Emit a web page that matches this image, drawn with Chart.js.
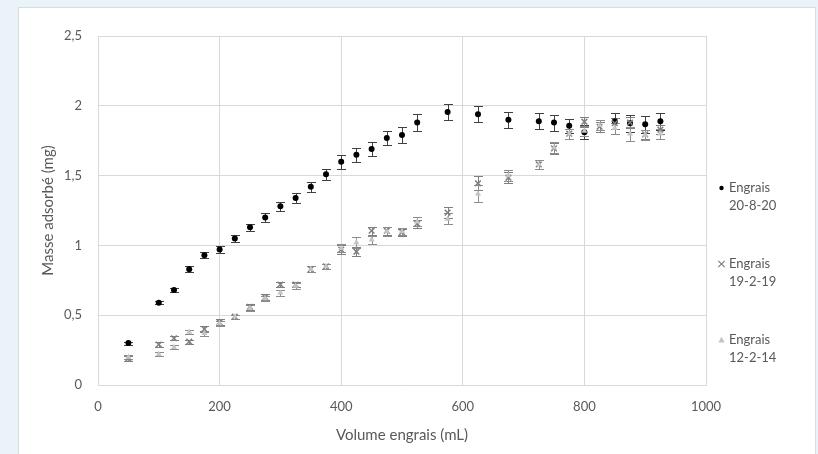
<!DOCTYPE html>
<html><head><meta charset="utf-8">
<script src="https://cdn.jsdelivr.net/npm/chart.js@4/dist/chart.umd.min.js"></script>
<style>
html,body{margin:0;padding:0;background:#eaf3f7;width:818px;height:454px;overflow:hidden}
#card{position:absolute;left:18px;top:7px;width:796px;height:460px;background:#fff;border:1px solid #dcdcdc;}
canvas{position:absolute;left:0;top:0}
</style></head><body>
<div id="card"></div>
<canvas id="c" width="818" height="454"></canvas>
<script>
const seriesNames = [["Engrais", "20-8-20"], ["Engrais", "19-2-19"], ["Engrais", "12-2-14"]];
const xTitle = "Volume engrais (mL)";
const yTitle = "Masse adsorbé (mg)";

// Engrais 20-8-20
const x1 = [50,100,125,150,175,200,225,250,275,300,325,350,375,400,425,450,475,500,525,575,625,675,725,750,775,800,850,875,900,925];
const y1 = [0.30,0.59,0.68,0.83,0.93,0.97,1.05,1.13,1.20,1.28,1.34,1.42,1.51,1.60,1.65,1.69,1.77,1.79,1.88,1.955,1.94,1.90,1.89,1.88,1.857,1.81,1.89,1.875,1.867,1.89];
const e1 = [0.01,0.012,0.015,0.02,0.02,0.025,0.025,0.025,0.03,0.03,0.035,0.035,0.04,0.05,0.05,0.05,0.05,0.055,0.06,0.057,0.057,0.057,0.057,0.057,0.05,0.05,0.055,0.06,0.06,0.06];

// Engrais 19-2-19
const x2 = [50,100,125,150,175,200,225,250,275,300,325,350,375,400,425,450,475,500,525,575,625,675,725,750,775,800,825,850,875,900,925];
const y2 = [0.19,0.29,0.335,0.31,0.40,0.45,0.49,0.56,0.63,0.72,0.72,0.83,0.85,0.97,0.955,1.105,1.105,1.095,1.155,1.235,1.445,1.485,1.58,1.695,1.80,1.886,1.85,1.875,1.88,1.795,1.83];
const e2 = [0.015,0.015,0.015,0.015,0.02,0.02,0.015,0.02,0.02,0.02,0.02,0.02,0.02,0.03,0.03,0.03,0.03,0.025,0.03,0.04,0.05,0.04,0.03,0.04,0.035,0.035,0.035,0.04,0.04,0.035,0.035];

// Engrais 12-2-14
const x3 = [50,100,125,150,175,200,225,250,275,300,325,350,375,400,425,450,475,500,525,575,625,675,725,750,775,800,825,850,875,900,925];
const y3 = [0.20,0.22,0.27,0.38,0.37,0.44,0.49,0.55,0.62,0.66,0.71,0.83,0.85,0.98,1.02,1.04,1.10,1.10,1.17,1.19,1.37,1.50,1.58,1.70,1.80,1.82,1.86,1.84,1.80,1.79,1.80];
const e3 = [0.015,0.015,0.015,0.015,0.02,0.02,0.015,0.02,0.02,0.02,0.02,0.02,0.02,0.03,0.04,0.03,0.03,0.025,0.03,0.04,0.06,0.04,0.03,0.04,0.035,0.035,0.035,0.04,0.05,0.035,0.035];

const xTicks = [0,200,400,600,800,1000];
const yTicks = [0,0.5,1,1.5,2,2.5];

const pts = (xs, ys, es) => xs.map((x, i) => ({x: x, y: ys[i], e: es[i]}));

const FONT = "Lato, 'Open Sans', sans-serif";
const TXT = "#595959";

const errorBars = {
  id: 'errorBars',
  beforeDatasetsDraw(chart) {
    const ctx = chart.ctx;
    const xs = chart.scales.x, ys = chart.scales.y;
    chart.data.datasets.forEach((ds) => {
      ctx.save();
      ctx.strokeStyle = ds.errorColor;
      ctx.lineWidth = 1;
      ds.data.forEach(p => {
        const px = Math.round(xs.getPixelForValue(p.x)) + 0.5;
        const yt = Math.round(ys.getPixelForValue(p.y + p.e)) + 0.5;
        const yb = Math.round(ys.getPixelForValue(p.y - p.e)) + 0.5;
        ctx.beginPath();
        ctx.moveTo(px, yt); ctx.lineTo(px, yb);
        ctx.moveTo(px - 4.5, yt); ctx.lineTo(px + 4.5, yt);
        ctx.moveTo(px - 4.5, yb); ctx.lineTo(px + 4.5, yb);
        ctx.stroke();
      });
      ctx.restore();
    });
  }
};

function drawMarker(ctx, style, x, y, fill, stroke, r) {
  ctx.save();
  ctx.fillStyle = fill; ctx.strokeStyle = stroke; ctx.lineWidth = 1.2;
  ctx.beginPath();
  if (style === 'circle') {
    ctx.arc(x, y, r, 0, Math.PI * 2); ctx.fill();
  } else if (style === 'crossRot') {
    ctx.moveTo(x - r, y - r); ctx.lineTo(x + r, y + r);
    ctx.moveTo(x - r, y + r); ctx.lineTo(x + r, y - r); ctx.stroke();
  } else if (style === 'triangle') {
    ctx.moveTo(x, y - r); ctx.lineTo(x + r, y + r * 0.8); ctx.lineTo(x - r, y + r * 0.8); ctx.closePath(); ctx.fill();
  }
  ctx.restore();
}

const legendPlugin = {
  id: 'sideLegend',
  afterDraw(chart) {
    const ctx = chart.ctx;
    const rows = [188, 264, 340];
    chart.data.datasets.forEach((ds, i) => {
      const y = rows[i];
      const st = ds.pointStyle;
      drawMarker(ctx, st, 721.5, y, ds.pointBackgroundColor, ds.pointBorderColor, st === 'circle' ? 2.2 : 3.2);
      ctx.save();
      ctx.fillStyle = TXT;
      ctx.font = "13px " + FONT;
      ctx.textBaseline = 'middle';
      ctx.textAlign = 'left';
      ds.label.forEach((t, k) => ctx.fillText(t, 729, y + k * 17.5));
      ctx.restore();
    });
  }
};

new Chart(document.getElementById('c'), {
  type: 'scatter',
  data: {
    datasets: [
      {label: seriesNames[0], data: pts(x1, y1, e1), pointStyle: 'circle', pointRadius: 3,
       pointBackgroundColor: '#000000', pointBorderColor: '#000000', pointBorderWidth: 0, errorColor: '#404040', order: 3},
      {label: seriesNames[1], data: pts(x2, y2, e2), pointStyle: 'crossRot', pointRadius: 4,
       pointBackgroundColor: '#7f7f7f', pointBorderColor: '#7f7f7f', pointBorderWidth: 1.5, errorColor: '#7f7f7f', order: 2},
      {label: seriesNames[2], data: pts(x3, y3, e3), pointStyle: 'triangle', pointRadius: 3.5,
       pointBackgroundColor: '#c4c4c4', pointBorderColor: '#c4c4c4', pointBorderWidth: 0, errorColor: '#8c8c8c', order: 1}
    ]
  },
  options: {
    responsive: false,
    animation: false,
    events: [],
    layout: {padding: {left: 18, right: 112, top: 36, bottom: 0}},
    plugins: {legend: {display: false}, tooltip: {enabled: false}},
    scales: {
      x: {
        type: 'linear', min: 0, max: 1000,
        afterBuildTicks: s => { s.ticks = xTicks.map(v => ({value: v})); },
        afterFit: s => { s.height = 69; },
        grid: {color: '#d9d9d9', drawTicks: false},
        border: {color: '#d9d9d9'},
        ticks: {color: TXT, font: {family: FONT, size: 13}, padding: 14, callback: v => String(v)},
        title: {display: true, text: xTitle, color: TXT, font: {family: FONT, size: 15}, padding: {top: 0, bottom: 10}}
      },
      y: {
        type: 'linear', min: 0, max: 2.5,
        afterBuildTicks: s => { s.ticks = yTicks.map(v => ({value: v})); },
        afterFit: s => { s.width = 80; },
        grid: {color: '#d9d9d9', drawTicks: false},
        border: {color: '#d9d9d9'},
        ticks: {color: TXT, font: {family: FONT, size: 13}, padding: 16, callback: v => String(v).replace('.', ',')},
        title: {display: true, text: yTitle, color: TXT, font: {family: FONT, size: 15}, padding: {top: 21, bottom: 0}}
      }
    }
  },
  plugins: [errorBars, legendPlugin]
});
</script>
</body></html>
